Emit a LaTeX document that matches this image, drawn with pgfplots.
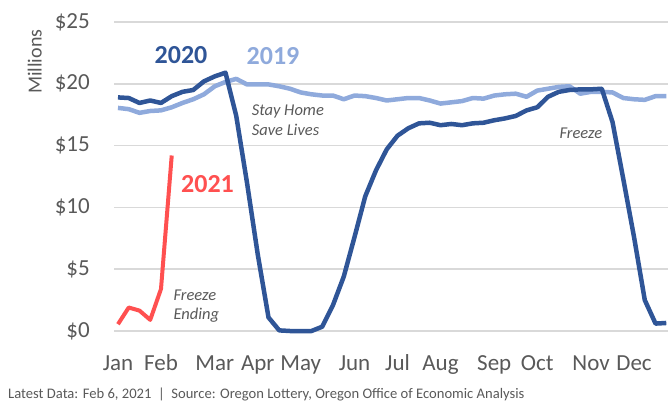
\documentclass[border=0pt]{standalone}
\usepackage{fontspec}
\setmainfont{Carlito}
\usepackage{pgfplots}
\pgfplotsset{compat=1.18}
\definecolor{darkblue}{HTML}{2F5597}
\definecolor{lightblue}{HTML}{8FAADC}
\definecolor{redline}{HTML}{FF5050}
\definecolor{txtgray}{HTML}{595959}
\definecolor{gridgray}{HTML}{D9D9D9}
\begin{document}
\begin{tikzpicture}[x=1bp,y=1bp]
\useasboundingbox (0,0) rectangle (668,402);
\begin{axis}[
  at={(114bp,71bp)}, anchor=south west,
  scale only axis, width=554bp, height=309bp,
  xmin=-0.37, xmax=51.16, ymin=0, ymax=25,
  axis line style={draw=none},
  major tick length=0pt,
  ytick={0,5,10,15,20,25},
  yticklabels={\$0,\$5,\$10,\$15,\$20,\$25},
  xtick={0,4,9,13,17,22,26,30,35,39,44,48},
  xticklabels={Jan,Feb,Mar,Apr,May,Jun,Jul,Aug,Sep,Oct,Nov,Dec},
  ymajorgrids, grid style={gridgray, line width=1.5bp},
  tick label style={font=\fontsize{23bp}{27bp}\selectfont, text=txtgray},
  yticklabel style={anchor=east, inner sep=0pt, xshift=-24bp},
  xticklabel style={anchor=base, inner sep=0pt, yshift=-39.7bp},
  clip=false,
]
\addplot[lightblue, line width=4.5bp, line join=round] coordinates {
(0,18.05) (1,17.95) (2,17.65) (3,17.8) (4,17.85) (5,18.1) (6,18.45) (7,18.75)
(8,19.15) (9,19.8) (10,20.15) (11,20.4) (12,19.95) (13,19.95) (14,19.95) (15,19.8)
(16,19.6) (17,19.3) (18,19.15) (19,19.05) (20,19.05) (21,18.75) (22,19.05) (23,19.0)
(24,18.85) (25,18.65) (26,18.75) (27,18.85) (28,18.85) (29,18.65) (30,18.4) (31,18.5)
(32,18.6) (33,18.85) (34,18.8) (35,19.05) (36,19.15) (37,19.2) (38,18.95) (39,19.45)
(40,19.6) (41,19.75) (42,19.8) (43,19.2) (44,19.35) (45,19.35) (46,19.3) (47,18.85)
(48,18.75) (49,18.7) (50,19.0) (51,19.0)
};
\addplot[darkblue, line width=4.5bp, line join=round] coordinates {
(0,18.9) (1,18.85) (2,18.45) (3,18.65) (4,18.45) (5,19.0) (6,19.35) (7,19.5)
(8,20.2) (9,20.6) (10,20.9) (11,17.4) (12,12.0) (13,6.2) (14,1.1) (15,0.05)
(16,0) (17,0) (18,0) (19,0.35) (20,2.1) (21,4.4) (22,7.6) (23,10.9)
(24,13.0) (25,14.7) (26,15.8) (27,16.4) (28,16.8) (29,16.85) (30,16.65) (31,16.75)
(32,16.65) (33,16.8) (34,16.85) (35,17.05) (36,17.2) (37,17.4) (38,17.85) (39,18.1)
(40,18.95) (41,19.35) (42,19.5) (43,19.55) (44,19.55) (45,19.6) (46,16.9) (47,12.3)
(48,7.6) (49,2.5) (50,0.6) (51,0.65)
};
\addplot[redline, line width=4bp, line join=round] coordinates {
(0,0.55) (1,1.9) (2,1.65) (3,0.9) (4,3.4) (5,14.2)
};
\end{axis}
\node[text=darkblue, font=\fontsize{26bp}{30bp}\selectfont\bfseries] at (181,346.7) {2020};
\node[text=lightblue, font=\fontsize{26bp}{30bp}\selectfont\bfseries] at (273,346) {2019};
\node[text=redline, font=\fontsize{26bp}{30bp}\selectfont\bfseries] at (207.5,218) {2021};
\node[text=txtgray, font=\fontsize{16.5bp}{20bp}\selectfont\itshape, anchor=base west, inner sep=0pt] at (251.7,286.4) {Stay Home};
\node[text=txtgray, font=\fontsize{16.5bp}{20bp}\selectfont\itshape, anchor=base west, inner sep=0pt] at (251.7,266.4) {Save Lives};
\node[text=txtgray, font=\fontsize{16.5bp}{20bp}\selectfont\itshape, anchor=base west, inner sep=0pt] at (559.3,264) {Freeze};
\node[text=txtgray, font=\fontsize{16.5bp}{20bp}\selectfont\itshape, anchor=base west, inner sep=0pt] at (173.3,102) {Freeze};
\node[text=txtgray, font=\fontsize{16.5bp}{20bp}\selectfont\itshape, anchor=base west, inner sep=0pt] at (173.3,83) {Ending};
\node[text=txtgray, font=\fontsize{20bp}{24bp}\selectfont, rotate=90] at (34.7,340.3) {Millions};
\node[text=txtgray, font=\fontsize{14.6bp}{18bp}\selectfont, anchor=base west, inner sep=0pt] at (8,4) {Latest Data: Feb 6, 2021~~|~~Source: Oregon Lottery, Oregon Office of Economic Analysis};
\end{tikzpicture}
\end{document}
